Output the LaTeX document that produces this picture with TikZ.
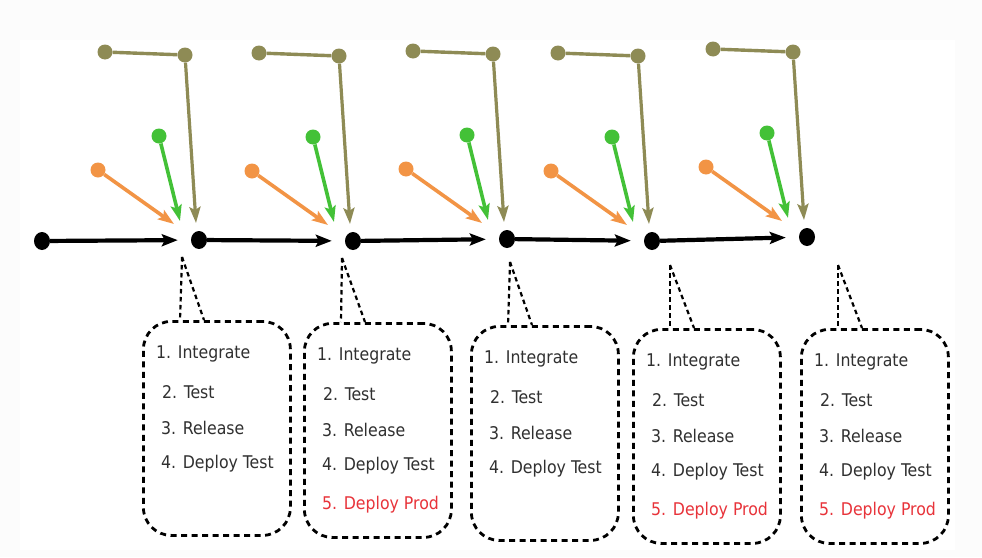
\documentclass[tikz,border=0pt]{standalone}
\usepackage{fontspec}
\setmainfont{DejaVu Sans Condensed}
\usetikzlibrary{arrows.meta,calc,shapes.geometric}
\definecolor{branchcol}{HTML}{8E8B55}
\definecolor{fixcol}{HTML}{F29445}
\definecolor{featcol}{HTML}{43C137}
\definecolor{prodcol}{HTML}{E8333A}
\definecolor{txtcol}{HTML}{303030}
\begin{document}
\begin{tikzpicture}[x=1pt,y=-1pt,
  dot/.style={ellipse,fill=black,inner sep=0pt,minimum width=16pt,minimum height=18pt},
  cdot/.style={circle,inner sep=0pt,minimum size=15pt},
  flow/.style={line width=4.2pt,shorten >=13pt,-{Stealth[length=16pt,width=12pt,inset=3pt]}},
  feed/.style={line width=3.6pt,-{Stealth[length=16pt,width=11pt,inset=3pt]}},
  callout/.style={draw,dash pattern=on 6pt off 4.5pt,line width=2.8pt,rounded corners=28pt,
    minimum width=147pt,minimum height=214pt,inner sep=0pt},
  pointer/.style={dash pattern=on 4.5pt off 3.5pt,line width=2.2pt},
  item/.style={anchor=west,font=\fontsize{17.5}{19}\selectfont,text=txtcol,inner sep=0pt},
]
% page and drawing area
\fill[black!1.2] (0,0) rectangle (982,557);
\fill[white] (20,40) rectangle (955,550);
\useasboundingbox (0,0) rectangle (982,557);

% main line of commits
\node[dot] (n0) at (42,241) {};
\foreach \i/\x/\y in {1/199/240,2/353/241,3/507/239,4/652/241,5/807/237}
  \node[dot] (n\i) at (\x,\y) {};
\foreach \a/\b in {0/1,1/2,2/3,3/4,4/5}
  \draw[flow] (n\a) -- (n\b);

% incoming branches at each merge
\foreach \i in {1,...,5}{
  % bug fix branch
  \node[cdot,fill=fixcol] (o\i) at ($(n\i)+(-101,-70)$) {};
  \coordinate (ot\i) at ($(n\i)+(-25,-16)$);
  \draw[feed,draw=fixcol,fill=fixcol] (o\i) -- (ot\i);
  % feature branch
  \node[cdot,fill=featcol] (g\i) at ($(n\i)+(-40,-104)$) {};
  \coordinate (gt\i) at ($(n\i)+(-19,-19)$);
  \draw[feed,draw=featcol,fill=featcol] (g\i) -- (gt\i);
  % long-lived branch
  \node[cdot,fill=branchcol] (l\i) at ($(n\i)+(-94,-188)$) {};
  \node[cdot,fill=branchcol] (r\i) at ($(n\i)+(-14,-185)$) {};
  \coordinate (rt\i) at ($(n\i)+(-3,-17)$);
  \draw[line width=3.4pt,branchcol] (l\i) -- (r\i);
  \draw[feed,line width=3.2pt,draw=branchcol,fill=branchcol] (r\i) -- (rt\i);
}

% callouts with the pipeline steps
\foreach \i/\bx/\by/\ax/\ay in {1/142/320/182/257,2/303/322/342/258,3/470/325/510/262,4/632/328/670/265,5/800/328/838/265}{
  \node[callout,anchor=north west] (b\i) at (\bx,\by) {};
  \coordinate (p\i) at (\ax,\ay);
  \draw[pointer] (p\i) -- ([xshift=38pt]b\i.north west);
  \draw[pointer] (p\i) -- ([xshift=62pt]b\i.north west);
  \node[item] (s\i a) at ($(b\i.north west)+(14,34)$) {1. Integrate};
  \node[item] (s\i b) at ($(b\i.north west)+(20,72)$) {2. Test};
  \node[item] (s\i c) at ($(b\i.north west)+(19,108)$) {3. Release};
  \node[item] (s\i d) at ($(b\i.north west)+(19,144)$) {4. Deploy Test};
}
\foreach \i in {2,4,5}
  \node[item,text=prodcol] (s\i e) at ($(b\i.north west)+(19,183)$) {5. Deploy Prod};
\end{tikzpicture}
\end{document}
